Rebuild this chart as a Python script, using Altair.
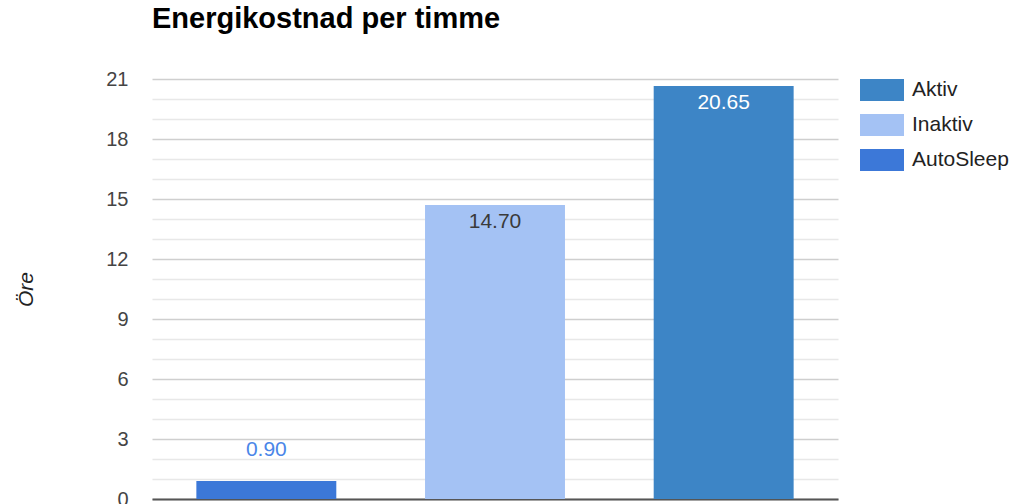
import altair as alt
import pandas as pd

# Hourly energy cost per mode, in öre
categories = ["AutoSleep", "Inaktiv", "Aktiv"]
costs = [0.90, 14.70, 20.65]

# Legend lists the modes from most to least expensive
legend_order = ["Aktiv", "Inaktiv", "AutoSleep"]
legend_colors = ["#3d85c6", "#a4c2f4", "#3c78d8"]

# Gridlines every öre, labelled every third
grid_values = list(range(0, 22))

df = pd.DataFrame({"category": categories, "cost": costs})

FONT = "Liberation Sans"

x_enc = alt.X(
    "category:N",
    sort=categories,
    scale=alt.Scale(paddingInner=0.388, paddingOuter=0.194),
    axis=alt.Axis(labels=False, ticks=False, title=None, grid=False,
                  domainColor="#555555", domainWidth=2),
)
y_enc = alt.Y(
    "cost:Q",
    scale=alt.Scale(domain=[0, 21], nice=False, zero=True),
    axis=alt.Axis(
        values=grid_values,
        tickCount=len(grid_values) + 2,
        labelExpr="datum.value % 3 === 0 ? datum.label : ''",
        labelOverlap=False,
        labelFont=FONT,
        labelFontSize=20,
        labelColor="#444444",
        labelPadding=24,
        ticks=False,
        domain=False,
        gridColor={"condition": {"test": "datum.value % 3 === 0", "value": "#cfcfcf"},
                   "value": "#e8e8e8"},
        gridWidth=1.5,
        title="Öre",
        titleFont=FONT,
        titleFontSize=21,
        titleFontStyle="italic",
        titleFontWeight="normal",
        titleColor="#222222",
        titleX=-120,
        titleY=210,
        titleAngle=270,
        titleBaseline="alphabetic",
        titleAlign="center",
    ),
)

base = alt.Chart(df)

bars = base.mark_bar().encode(
    x=x_enc,
    y=y_enc,
    color=alt.Color(
        "category:N",
        scale=alt.Scale(domain=legend_order, range=legend_colors),
        legend=alt.Legend(
            title=None,
            orient="none",
            legendX=708,
            legendY=-11,
            symbolType="M-1,-0.5H1V0.5H-1Z",
            symbolSize=1936,
            symbolStrokeWidth=0,
            labelFont=FONT,
            labelFontSize=21,
            labelColor="#222222",
            labelOffset=8,
            rowPadding=2,
        ),
    ),
)

inside_labels = base.transform_filter("datum.cost >= 3").mark_text(
    baseline="alphabetic", dy=23, font=FONT, fontSize=21
).encode(
    x=alt.X("category:N", sort=categories),
    y="cost:Q",
    text=alt.Text("cost:Q", format=".2f"),
    color=alt.condition("datum.category === 'Aktiv'", alt.value("#ffffff"), alt.value("#3a3a3a")),
)

outside_labels = base.transform_filter("datum.cost < 3").mark_text(
    baseline="alphabetic", dy=-25, font=FONT, fontSize=21, color="#4a86e8"
).encode(
    x=alt.X("category:N", sort=categories),
    y="cost:Q",
    text=alt.Text("cost:Q", format=".2f"),
)

chart = (
    alt.layer(bars, inside_labels, outside_labels)
    .properties(
        width=686,
        height=420,
        background="#ffffff",
        title=alt.TitleParams(
            "Energikostnad per timme",
            anchor="start",
            frame="group",
            font=FONT,
            fontSize=29,
            fontWeight="bold",
            color="#000000",
            baseline="alphabetic",
            offset=11,
        ),
        autosize=alt.AutoSizeParams(type="none"),
        padding={"left": 152, "top": 79, "right": 181, "bottom": 5},
    )
    .configure_view(stroke="transparent", strokeWidth=0)
    .configure_axis(labelOverlap=False)
)

chart.save("out.html", embed_options={"renderer": "svg", "actions": False})
